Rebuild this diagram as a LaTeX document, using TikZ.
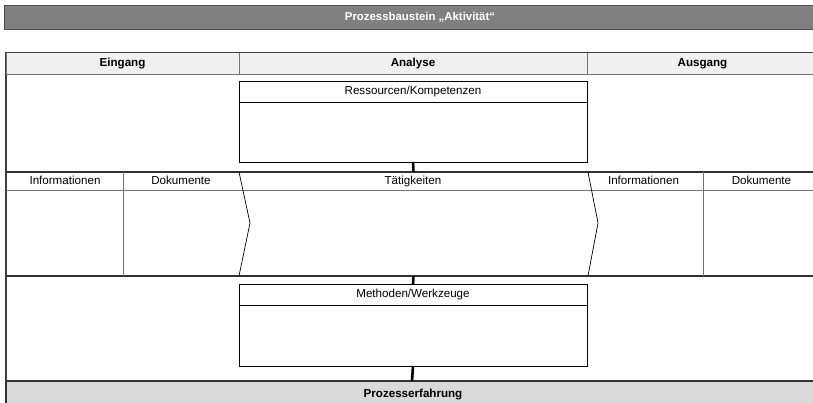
\documentclass[tikz,border=0pt]{standalone}
\usepackage{fontspec}
\setmainfont{Liberation Sans}
\begin{document}
\begin{tikzpicture}[x=1pt,y=-1pt,
  every node/.style={inner sep=0pt, outer sep=0pt, font=\fontsize{11.6}{13}\selectfont},
  label text/.style={text height=8.4pt, text depth=2.4pt},
  titlebar/.style={fill=black!50, draw=black!70, line width=1pt, text=white, font=\fontsize{11.4}{13}\selectfont\bfseries},
  headcell/.style={fill=black!6, draw=black!55, line width=1pt, font=\fontsize{11.6}{13}\selectfont\bfseries},
  boxhead/.style={draw=black, line width=0.8pt, fill=white},
  boxbody/.style={draw=black, line width=0.8pt, fill=white},
  divider/.style={draw=black!55, line width=1pt},
  rule/.style={draw=black!80, line width=1.3pt},
  chevron/.style={draw=black, line width=0.7pt},
  conn/.style={draw=black, line width=2.6pt},
  footbar/.style={fill=black!15, draw=black!80, line width=1.3pt}]

\useasboundingbox (0,0) rectangle (813,403);
\clip (0,0) rectangle (813,403);

% title bar
\node[titlebar, minimum width=832pt, minimum height=24.5pt] (title) at (420,17.75) {Prozessbaustein „Aktivität“};

% outer frame
\draw[draw=black!75, line width=1.4pt] (6,52.5) rectangle (818,420);

% column headers
\node[headcell, minimum width=233pt, minimum height=22pt] (eingang) at (122.5,63.5) {Eingang};
\node[headcell, minimum width=348pt, minimum height=22pt] (analyse) at (413,63.5) {Analyse};
\node[headcell, minimum width=231pt, minimum height=22pt] (ausgang) at (702.5,63.5) {Ausgang};
\draw[draw=black!75, line width=1.3pt] (eingang.north west) -- (ausgang.north east);

% resources box
\node[boxhead, minimum width=348pt, minimum height=21pt] (reshead) at (413,91.5) {Ressourcen/Kompetenzen};
\node[boxbody, minimum width=348pt, minimum height=60pt, anchor=north] (resbody) at (reshead.south) {};

% activity row
\node[minimum width=349pt, minimum height=104pt] (taet) at (413.5,224) {};
\node[minimum width=117pt, minimum height=104pt] (incell) at (64.5,224) {};
\node[minimum width=116pt, minimum height=104pt] (doccell) at (181,224) {};
\node[minimum width=115pt, minimum height=104pt] (outinfcell) at (645.5,224) {};
\node[minimum width=115pt, minimum height=104pt] (outdoccell) at (760.5,224) {};

\draw[rule] (incell.north west) -- (outdoccell.north east);
\draw[rule] (incell.south west) -- (outdoccell.south east);
\draw[divider] (6,191) -- (818,191);
\draw[divider] (incell.north east) -- (incell.south east);
\draw[divider] (outinfcell.north east) -- (outinfcell.south east);
\draw[chevron] (taet.north west) -- ++(11,51) -- (taet.south west);
\draw[chevron] (taet.north east) -- ++(10,51) -- (taet.south east);

\node[label text] (inf1) at (65,181.5) {Informationen};
\node[label text] (dok1) at (181,181.5) {Dokumente};
\node[label text] (taetlabel) at (413,181.5) {Tätigkeiten};
\node[label text] (inf2) at (643.5,181.5) {Informationen};
\node[label text] (dok2) at (761.5,181.5) {Dokumente};

% methods box
\node[boxhead, minimum width=348pt, minimum height=21pt] (methhead) at (413,294.5) {Methoden/Werkzeuge};
\node[boxbody, minimum width=348pt, minimum height=61pt, anchor=north] (methbody) at (methhead.south) {};

% experience bar
\node[footbar, minimum width=812pt, minimum height=30pt] (erf) at (412,396) {};
\node[label text] (erflabel) at (413,394.5) {\bfseries Prozesserfahrung};

% links between the blocks
\draw[conn] (resbody.south) -- (taet.north);
\draw[conn] (taet.south) -- (methhead.north);
\draw[conn] (methbody.south) -- (erf.north);
\end{tikzpicture}
\end{document}
